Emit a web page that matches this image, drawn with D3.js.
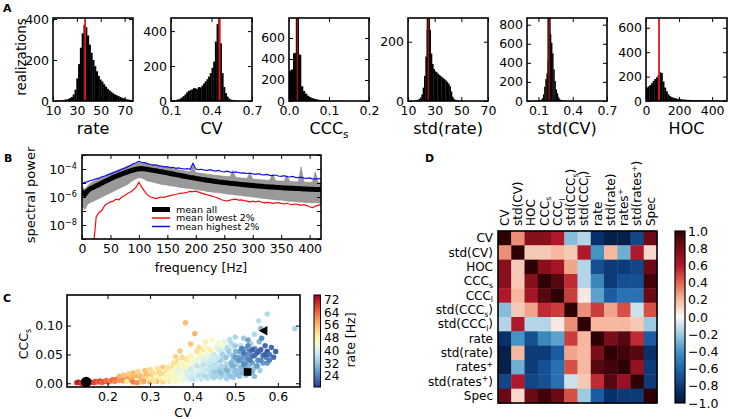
<!DOCTYPE html>
<html>
<head>
<meta charset="utf-8">
<script src="https://cdn.jsdelivr.net/npm/d3@7"></script>
<style>
  body { margin: 0; background: #fff; }
  text { font-family: "DejaVu Sans", sans-serif; }
</style>
</head>
<body>
<script>
// ---------- data: panel A histograms (bin start, bin width, counts, mean)
var rateStart = 13, rateWidth = 1.5;
var rateCounts = [1,2,3,4,6,8,10,14,20,32, 55,110,180,260,330,372,360,320,275,235,
                  200,170,145,122,105,95,82,70,60,52, 45,38,32,28,24,20,16,13,10,8, 6,5,4,3];
var rateMean = 36.9;

var cvStart = 0.1, cvWidth = 0.0125;
var cvCounts = [2,3,5,7,10,14,20,28,38,50, 58,62,66,74,72,70,80,78,88,100,
                112,125,140,160,190,225,340,440,472,330, 160,80,45,25,14,8,5,3,2,1];
var cvMean = 0.46;

var cccStart = 0, cccWidth = 0.005;
var cccCounts = [290,300,455,460,455,440,140,95,70,50, 38,28,22,17,13,10,8,6,5,4, 3,3,2,2,1,1,1,1,0,1];
var cccMean = 0.021;

var stdRateStart = 15, stdRateWidth = 1;
var stdRateCounts = [2,3,4,7,12,22,45,85,150,240, 300,240,160,125,108,100,97,92,88,84,
                     80,77,73,69,64,58,50,32,14,7, 4,3,2,1,1];
var stdRateMean = 25.2;

var stdCvStart = 0.05, stdCvWidth = 0.01;
var stdCvCounts = [2,3,4,5,6,8,10,15,30,70, 150,230,290,420,760,700,610,500,330,210,
                   120,80,40,20,12,8,5,4,3,2, 2,1,1];
var stdCvMean = 0.193;

var hocStart = 0, hocWidth = 10;
var hocCounts = [110,120,130,145,165,180,195,210,235,230, 160,110,80,55,40,32,27,23,20,17,
                 15,13,12,11,10,9,9,8,8,7, 7,6,6,6,5,5,5,4,4,4, 4,3,3,3,3,2,2,2,2];
var hocMean = 79;

// ---------- data: panel B spectra, log10 power every 5 Hz from 0 to 420 Hz
var specStep = 5;
var blackLog = [-5.6,-5.8,-5.55,-5.4,-5.3,-5.2,-5.1,-5.0,-4.9,-4.8,
  -4.7,-4.6,-4.52,-4.44,-4.36,-4.28,-4.2,-4.13,-4.07,-4.02,
  -3.98,-3.97,-3.99,-4.02,-4.06,-4.1,-4.13,-4.17,-4.2,-4.24,
  -4.28,-4.32,-4.36,-4.4,-4.44,-4.48,-4.52,-4.56,-4.6,-4.63,
  -4.67,-4.7,-4.74,-4.77,-4.8,-4.83,-4.86,-4.89,-4.92,-4.94,
  -4.97,-4.99,-5.02,-5.04,-5.06,-5.08,-5.1,-5.12,-5.14,-5.16,
  -5.18,-5.2,-5.21,-5.23,-5.25,-5.26,-5.28,-5.29,-5.31,-5.32,
  -5.33,-5.35,-5.36,-5.37,-5.38,-5.39,-5.4,-5.41,-5.42,-5.43,
  -5.44,-5.45,-5.46,-5.46,-5.47];
var grayHiLog = [-5.25,-5.45,-5.2,-5.0,-4.9,-4.8,-4.7,-4.6,-4.5,-4.4,
  -4.3,-4.2,-4.12,-4.04,-3.96,-3.88,-3.8,-3.72,-3.65,-3.6,
  -3.55,-3.55,-3.58,-3.62,-3.66,-3.7,-3.74,-3.78,-3.82,-3.86,
  -3.9,-3.94,-3.98,-4.02,-4.06,-4.1,-4.13,-4.16,-4.19,-3.75,
  -4.25,-4.28,-4.31,-4.34,-4.37,-4.4,-4.42,-4.45,-4.47,-4.5,
  -4.52,-4.54,-4.56,-4.1,-4.6,-4.62,-4.64,-4.66,-4.68,-4.3,
  -4.72,-4.74,-4.75,-4.77,-4.78,-4.8,-4.81,-4.35,-4.84,-4.85,
  -4.86,-4.87,-4.45,-4.89,-4.9,-4.91,-4.92,-3.85,-4.93,-4.94,
  -4.95,-4.96,-4.2,-4.97,-4.98];
var grayLoLog = [-6.6,-6.9,-6.5,-6.4,-6.3,-6.2,-6.1,-6.0,-5.9,-5.8,
  -5.7,-5.6,-5.5,-5.4,-5.3,-5.2,-5.1,-4.95,-4.8,-4.7,
  -4.62,-4.65,-4.75,-4.85,-4.9,-4.95,-5.0,-5.05,-5.1,-5.12,
  -5.15,-5.2,-5.22,-5.25,-5.3,-5.32,-5.35,-5.38,-5.4,-5.42,
  -5.45,-5.5,-5.52,-5.55,-5.6,-5.62,-5.65,-5.68,-5.7,-5.72,
  -5.75,-5.78,-5.8,-5.82,-5.85,-5.87,-5.9,-5.92,-5.95,-5.97,
  -6.0,-6.02,-6.05,-6.08,-6.1,-6.12,-6.15,-6.17,-6.2,-6.22,
  -6.22,-6.25,-6.28,-6.3,-6.3,-6.32,-6.35,-6.35,-6.38,-6.4,
  -6.4,-6.42,-6.4,-6.43,-6.45];
var blueLog = [-5.05,-4.95,-4.9,-4.82,-4.78,-4.7,-4.65,-4.55,-4.5,-4.42,
  -4.35,-4.28,-4.2,-4.12,-4.02,-3.95,-3.85,-3.75,-3.62,-3.55,
  -3.45,-3.52,-3.55,-3.62,-3.68,-3.72,-3.7,-3.78,-3.8,-3.85,
  -3.83,-3.9,-3.88,-3.95,-3.92,-3.98,-4.0,-3.97,-4.02,-3.6,
  -4.0,-4.05,-4.02,-4.08,-4.1,-4.05,-4.12,-4.15,-4.1,-4.18,
  -4.2,-4.15,-4.22,-4.25,-4.2,-4.25,-4.3,-4.28,-4.32,-4.3,
  -4.35,-4.38,-4.33,-4.4,-4.42,-4.38,-4.45,-4.47,-4.43,-4.5,
  -4.52,-4.48,-4.55,-4.57,-4.53,-4.6,-4.62,-4.58,-4.65,-4.67,
  -4.63,-4.7,-4.72,-4.68,-4.7];
var redLog = [null,null,null,null,-9.6,-7.4,-7.1,-6.95,-6.6,-6.45,
  -6.35,-6.3,-6.15,-6.2,-6.0,-5.9,-5.75,-5.65,-5.5,-5.3,
  -4.95,-5.3,-5.6,-5.85,-6.0,-6.05,-6.12,-6.05,-6.0,-6.02,
  -5.95,-5.9,-5.85,-5.82,-5.75,-5.72,-5.7,-5.66,-5.6,-5.62,
  -5.58,-5.65,-5.72,-5.78,-5.85,-5.9,-5.95,-6.02,-6.1,-6.2,
  -6.25,-6.3,-6.22,-6.18,-6.15,-6.22,-6.2,-6.26,-6.3,-6.36,
  -6.3,-6.35,-6.3,-6.36,-6.42,-6.38,-6.4,-6.45,-6.42,-6.4,
  -6.46,-6.5,-6.45,-6.52,-6.55,-6.5,-6.55,-6.6,-6.55,-6.62,
  -6.7,-6.75,-6.65,-6.6,-6.55];
var legendNames = ["mean all", "mean lowest 2%", "mean highest 2%"];

// ---------- data: panel C scatter [CV, CCC_s, rate]
var scatterPts = [
  [0.128,0.001,70],[0.132,0.002,72],[0.138,0.000,69],[0.142,0.002,71],[0.147,0.001,68],
  [0.152,0.003,70],[0.158,0.001,67],[0.162,0.002,69],[0.168,0.001,66],[0.172,0.003,68],
  [0.177,0.002,65],[0.182,0.004,67],[0.187,0.001,64],[0.192,0.003,66],[0.197,0.005,63],
  [0.202,0.002,65],[0.207,0.004,62],[0.212,0.006,64],[0.217,0.003,61],[0.222,0.007,63],
  [0.227,0.005,60],[0.232,0.009,62],[0.237,0.004,59],[0.242,0.008,61],[0.247,0.011,58],
  [0.252,0.006,60],[0.257,0.010,57],[0.262,0.004,59],[0.266,0.012,56],[0.271,0.008,58],
  [0.276,0.014,55],[0.281,0.006,57],[0.286,0.011,54],[0.291,0.016,56],[0.296,0.009,53],
  [0.301,0.013,55],[0.306,0.018,52],[0.311,0.007,54],[0.316,0.015,51],[0.321,0.020,53],
  [0.245,0.003,50],[0.268,0.005,48],[0.283,0.002,52],[0.298,0.004,47],[0.312,0.010,46],
  [0.325,0.006,49],[0.330,0.012,45],[0.335,0.018,50],[0.338,0.004,44],[0.342,0.022,52],
  [0.346,0.009,46],[0.350,0.015,43],[0.352,0.026,55],[0.356,0.012,47],[0.360,0.020,44],
  [0.362,0.006,42],[0.365,0.030,50],[0.368,0.016,45],[0.372,0.024,43],[0.375,0.010,41],
  [0.378,0.034,48],[0.381,0.019,44],[0.384,0.027,42],[0.387,0.013,40],[0.390,0.038,47],
  [0.393,0.022,43],[0.396,0.030,41],[0.399,0.016,39],[0.402,0.042,46],[0.405,0.025,42],
  [0.408,0.034,40],[0.411,0.011,38],[0.414,0.045,45],[0.417,0.028,41],[0.420,0.020,39],
  [0.423,0.037,43],[0.426,0.014,37],[0.429,0.048,44],[0.432,0.031,40],[0.435,0.023,38],
  [0.438,0.041,42],[0.441,0.017,36],[0.444,0.052,46],[0.447,0.034,39],[0.450,0.026,37],
  [0.453,0.045,41],[0.456,0.019,35],[0.459,0.038,38],[0.462,0.055,42],[0.465,0.030,36],
  [0.468,0.048,39],[0.471,0.022,34],[0.474,0.041,37],[0.477,0.058,40],[0.480,0.033,35],
  [0.483,0.015,33],[0.486,0.050,36],[0.489,0.027,34],[0.492,0.062,38],[0.495,0.040,32],
  [0.498,0.018,33],[0.501,0.055,30],[0.504,0.032,33],[0.507,0.045,28],[0.510,0.024,32],
  [0.513,0.065,36],[0.516,0.038,29],[0.519,0.050,26],[0.522,0.020,31],[0.525,0.060,27],
  [0.528,0.043,25],[0.531,0.030,30],[0.534,0.055,24],[0.537,0.068,34],[0.540,0.047,23],
  [0.543,0.025,32],[0.546,0.060,25],[0.550,0.052,22],[0.553,0.040,26],[0.556,0.072,30],
  [0.560,0.058,21],[0.565,0.048,23],[0.570,0.065,22],[0.575,0.055,20],
  [0.383,0.105,56],[0.405,0.086,57],[0.395,0.068,55],[0.370,0.056,54],[0.360,0.046,53],
  [0.415,0.062,52],[0.425,0.058,50],[0.430,0.072,48],[0.445,0.075,45],[0.460,0.070,43],
  [0.475,0.072,41],[0.487,0.076,36],[0.500,0.080,34],[0.520,0.078,33],[0.545,0.085,35],
  [0.555,0.108,36],[0.575,0.120,35],[0.640,0.095,34],[0.560,0.095,30],[0.530,0.075,28],
  [0.562,0.078,25],
  [0.228,0.012,57],[0.238,0.014,55],[0.250,0.016,54],[0.260,0.018,56],[0.272,0.020,53],
  [0.288,0.022,55],[0.300,0.024,52],[0.318,0.026,51],[0.330,0.028,54],[0.260,0.002,62],
  [0.270,0.001,60],[0.285,0.003,58],[0.300,0.002,57],[0.315,0.003,56],[0.330,0.002,53],
  [0.345,0.003,49],[0.360,0.003,46],[0.375,0.004,44],[0.390,0.005,41],[0.405,0.006,40],
  [0.420,0.007,38],[0.435,0.008,37],[0.450,0.009,36],[0.465,0.010,35],[0.480,0.008,34],
  [0.495,0.010,33],[0.510,0.012,32],[0.525,0.014,31],[0.455,0.012,34],[0.470,0.014,33],
  [0.485,0.020,32],[0.500,0.022,31],[0.515,0.028,30],[0.530,0.018,32],[0.540,0.035,28],
  [0.545,0.012,31],[0.552,0.030,29],[0.558,0.022,33],[0.565,0.035,27],[0.572,0.045,24],
  [0.580,0.050,23],[0.585,0.062,22],[0.440,0.030,36],[0.452,0.035,35],[0.465,0.040,33],
  [0.478,0.045,32],[0.490,0.035,30],[0.505,0.040,29],[0.518,0.045,27],[0.530,0.050,26],
  [0.450,0.050,38],[0.465,0.058,37],[0.480,0.062,35],[0.495,0.048,31],[0.510,0.055,28],
  [0.525,0.035,27],[0.470,0.065,44],[0.455,0.062,47],[0.440,0.058,49],[0.420,0.050,46],
  [0.410,0.055,51],[0.395,0.048,48],[0.385,0.042,50],[0.375,0.045,52],[0.365,0.038,53],
  [0.355,0.035,51],[0.345,0.030,49],[0.340,0.013,48],[0.350,0.022,47],[0.360,0.028,46],
  [0.370,0.035,45],[0.380,0.028,47],[0.390,0.030,44],[0.400,0.035,43],[0.410,0.040,42],
  [0.420,0.045,43],[0.430,0.038,41],[0.440,0.045,40],[0.450,0.040,39],[0.460,0.045,38],
  [0.410,0.020,40],[0.420,0.028,39],[0.430,0.022,38],[0.440,0.025,37],
  [0.300,0.008,50],[0.310,0.004,51],[0.320,0.012,48],[0.325,0.017,52],[0.335,0.008,47],
  [0.340,0.025,51],[0.345,0.018,45],[0.355,0.008,45],[0.365,0.022,41],[0.370,0.012,43],
  [0.380,0.008,42],[0.385,0.020,40],[0.390,0.012,39],[0.395,0.024,38],[0.400,0.008,37],
  [0.410,0.030,37],[0.415,0.014,36],[0.425,0.032,36],[0.430,0.012,35],[0.435,0.035,38],
  [0.445,0.012,34],[0.450,0.020,33],[0.460,0.025,32],[0.465,0.018,31],[0.475,0.028,31],
  [0.480,0.022,30],[0.490,0.012,32],[0.495,0.030,29],[0.505,0.015,31],[0.510,0.040,26],
  [0.515,0.018,30],[0.520,0.032,25],[0.525,0.025,28],[0.535,0.040,24],[0.540,0.020,30],
  [0.545,0.048,22],[0.550,0.030,27],[0.555,0.055,21],[0.560,0.040,25],[0.570,0.050,21],
  [0.575,0.035,26],[0.580,0.040,24],[0.590,0.045,22],[0.595,0.055,21],[0.500,0.065,33],
  [0.490,0.070,35],[0.470,0.050,34],[0.485,0.055,33],[0.500,0.045,27],[0.515,0.060,24],
  [0.520,0.052,23],[0.530,0.065,25],[0.540,0.058,21],[0.455,0.028,36],[0.470,0.030,35],
  [0.425,0.040,40],[0.435,0.050,42],[0.445,0.040,38],[0.460,0.060,40],[0.430,0.063,45]
];
var circlePt = [0.15, 0.002], squarePt = [0.529, 0.0195], trianglePt = [0.566, 0.091];
var rateTicks = [24, 32, 40, 48, 56, 64, 72];

// ---------- data: panel D correlation matrix
var corrLabels = ["CV", "std(CV)", "HOC", "CCC_s", "CCC_l", "std(CCC_s)", "std(CCC_l)",
                  "rate", "std(rate)", "rates^+", "std(rates^+)", "Spec"];
var corrVals = [
  [ 1.00, 0.30, 0.75, 0.75, 0.60,-0.25,-0.15,-0.85,-0.95,-0.95,-0.75, 0.85],
  [ 0.30, 1.00, 0.15, 0.15, 0.20, 0.15, 0.60,-0.40, 0.20,-0.30, 0.60, 0.10],
  [ 0.75, 0.15, 1.00, 0.75, 0.65, 0.25,-0.15,-0.70,-0.80,-0.80,-0.75, 0.85],
  [ 0.75, 0.15, 0.75, 1.00, 0.90, 0.55,-0.15,-0.45,-0.80,-0.70,-0.70, 0.95],
  [ 0.60, 0.20, 0.65, 0.90, 1.00, 0.50, 0.05,-0.35,-0.65,-0.55,-0.55, 0.85],
  [-0.25, 0.15, 0.25, 0.55, 0.50, 1.00, 0.30, 0.50, 0.25, 0.45,-0.10, 0.45],
  [-0.15, 0.60,-0.15,-0.15, 0.05, 0.30, 1.00, 0.20, 0.20, 0.20, 0.15,-0.20],
  [-0.85,-0.40,-0.70,-0.45,-0.35, 0.50, 0.20, 1.00, 0.80, 0.90, 0.55,-0.65],
  [-0.95, 0.20,-0.80,-0.80,-0.65, 0.25, 0.20, 0.80, 1.00, 0.95, 0.90,-0.85],
  [-0.95,-0.30,-0.80,-0.70,-0.55, 0.45, 0.20, 0.90, 0.95, 1.00, 0.70,-0.80],
  [-0.75, 0.60,-0.75,-0.70,-0.55,-0.10, 0.15, 0.55, 0.90, 0.70, 1.00,-0.80],
  [ 0.85, 0.10, 0.85, 0.95, 0.85, 0.45,-0.20,-0.65,-0.85,-0.80,-0.80, 1.00]
];
var corrTicks = [-1, -0.8, -0.6, -0.4, -0.2, 0, 0.2, 0.4, 0.6, 0.8, 1];

// ---------- drawing
var svg = d3.select("body").append("svg").attr("width", 730).attr("height", 419);

// text with "_x" / "^x" (or _{..}) sub/superscripts
function rich(t, str) {
  var fs = parseFloat(t.attr("font-size"));
  var parts = [], buf = "", i = 0;
  while (i < str.length) {
    var c = str[i];
    if ((c === "_" || c === "^") && i + 1 < str.length) {
      if (buf) parts.push({s: buf, k: 0});
      buf = "";
      var s;
      if (str[i + 1] === "{") { var j = str.indexOf("}", i); s = str.slice(i + 2, j); i = j + 1; }
      else { s = str[i + 1]; i += 2; }
      parts.push({s: s, k: c === "_" ? 1 : -1});
    } else { buf += c; i++; }
  }
  if (buf) parts.push({s: buf, k: 0});
  var shift = 0;
  parts.forEach(function(p) {
    var want = p.k === 1 ? fs * 0.22 : (p.k === -1 ? -fs * 0.4 : 0);
    t.append("tspan").attr("dy", want - shift).attr("font-size", p.k ? fs * 0.65 : fs).text(p.s);
    shift = want;
  });
  return t;
}

function panelLetter(x, y, s) {
  svg.append("text").attr("x", x).attr("y", y).attr("font-size", 11)
    .attr("font-weight", "bold").text(s);
}

// inward ticks on all four sides, labels on bottom and left, black frame
function frameAxes(g, xs, ys, o) {
  var x0 = xs.range()[0], x1 = xs.range()[1], y0 = ys.range()[1], y1 = ys.range()[0];
  var tl = o.tl || 4;
  var b = g.append("g").attr("transform", "translate(0," + y1 + ")")
    .call(d3.axisBottom(xs).tickValues(o.xt).tickFormat(o.xf).tickSizeInner(-tl).tickSizeOuter(0).tickPadding(o.xpad || 5));
  var t = g.append("g").attr("transform", "translate(0," + y0 + ")")
    .call(d3.axisTop(xs).tickValues(o.xt).tickFormat("").tickSizeInner(-tl).tickSizeOuter(0));
  var l = g.append("g").attr("transform", "translate(" + x0 + ",0)")
    .call(d3.axisLeft(ys).tickValues(o.yt).tickFormat(o.yf || "").tickSizeInner(-tl).tickSizeOuter(0).tickPadding(o.ypad || 4));
  var r = g.append("g").attr("transform", "translate(" + x1 + ",0)")
    .call(d3.axisRight(ys).tickValues(o.yt).tickFormat("").tickSizeInner(-tl).tickSizeOuter(0));
  [b, t, l, r].forEach(function(a) {
    a.select(".domain").remove();
    a.selectAll(".tick line").attr("stroke", "#000").attr("stroke-width", 1);
    a.selectAll("text").attr("font-family", "DejaVu Sans, sans-serif")
      .attr("font-size", o.fs || 12).attr("fill", "#000");
  });
  g.append("rect").attr("x", x0).attr("y", y0).attr("width", x1 - x0).attr("height", y1 - y0)
    .attr("fill", "none").attr("stroke", "#000").attr("stroke-width", 1.6);
}

var clipN = 0;
function clipFor(g, x, y, w, h) {
  var id = "clip" + (clipN++);
  g.append("clipPath").attr("id", id).append("rect")
    .attr("x", x).attr("y", y).attr("width", w).attr("height", h);
  return "url(#" + id + ")";
}

// ---------- panel A
panelLetter(3, 12, "A");
var histDefs = [
  {x0: 53,  x1: 133, xd: [10, 77],  yd: [0, 405], xt: [10, 30, 50, 70], yt: [0, 200, 400],
   start: rateStart, w: rateWidth, counts: rateCounts, mean: rateMean, label: "rate", xf: d3.format("d"), dark: false},
  {x0: 171, x1: 252, xd: [0.1, 0.7], yd: [0, 475], xt: [0.1, 0.4, 0.7], yt: [0, 200, 400],
   start: cvStart, w: cvWidth, counts: cvCounts, mean: cvMean, label: "CV", xf: d3.format(".1f"), dark: false},
  {x0: 289, x1: 369, xd: [0, 0.2], yd: [0, 790], xt: [0, 0.1, 0.2], yt: [0, 200, 400, 600],
   start: cccStart, w: cccWidth, counts: cccCounts, mean: cccMean, label: "CCC_s", xf: d3.format(".1f"), dark: true},
  {x0: 408, x1: 488, xd: [10, 70], yd: [0, 280], xt: [10, 30, 50, 70], yt: [0, 200],
   start: stdRateStart, w: stdRateWidth, counts: stdRateCounts, mean: stdRateMean, label: "std(rate)", xf: d3.format("d"), dark: true},
  {x0: 527, x1: 607, xd: [0, 0.7], yd: [0, 870], xt: [0.1, 0.4, 0.7], yt: [0, 200, 400, 600, 800],
   start: stdCvStart, w: stdCvWidth, counts: stdCvCounts, mean: stdCvMean, label: "std(CV)", xf: d3.format(".1f"), dark: true},
  {x0: 646, x1: 727, xd: [0, 490], yd: [0, 680], xt: [0, 200, 400], yt: [0, 200, 400, 600],
   start: hocStart, w: hocWidth, counts: hocCounts, mean: hocMean, label: "HOC", xf: d3.format("d"), dark: false}
];
var aTop = 18, aBot = 101;
histDefs.forEach(function(h) {
  var g = svg.append("g");
  var xs = d3.scaleLinear().domain(h.xd).range([h.x0, h.x1]);
  var ys = d3.scaleLinear().domain(h.yd).range([aBot, aTop]);
  var cp = clipFor(g, h.x0, aTop, h.x1 - h.x0, aBot - aTop);
  var bins = h.counts.map(function(c, i) { return {a: h.start + i * h.w, b: h.start + (i + 1) * h.w, c: c}; });
  g.append("g").attr("clip-path", cp).selectAll("rect").data(bins).enter().append("rect")
    .attr("x", function(d) { return xs(d.a); })
    .attr("width", function(d) { return Math.max(0, xs(d.b) - xs(d.a)) + 0.3; })
    .attr("y", function(d) { return ys(d.c); })
    .attr("height", function(d) { return ys(0) - ys(d.c); })
    .attr("fill", "#000");
  if (h.dark) {
    g.append("line").attr("x1", xs(h.mean)).attr("x2", xs(h.mean)).attr("y1", aTop).attr("y2", aBot)
      .attr("stroke", "#000").attr("stroke-width", 3.2);
    g.append("line").attr("x1", xs(h.mean)).attr("x2", xs(h.mean)).attr("y1", aTop).attr("y2", aBot)
      .attr("stroke", "#b01010").attr("stroke-width", 1.4);
  } else {
    g.append("line").attr("x1", xs(h.mean)).attr("x2", xs(h.mean)).attr("y1", aTop).attr("y2", aBot)
      .attr("stroke", "#e01818").attr("stroke-width", 1.8);
  }
  frameAxes(g, xs, ys, {xt: h.xt, xf: h.xf, yt: h.yt, yf: d3.format("d"), fs: 12.5});
  rich(g.append("text").attr("x", (h.x0 + h.x1) / 2).attr("y", 134).attr("text-anchor", "middle")
    .attr("font-size", 16), h.label);
});
svg.append("text").attr("transform", "translate(26,57) rotate(-90)").attr("text-anchor", "middle")
  .attr("font-size", 13.5).text("realizations");

// ---------- panel B
panelLetter(4, 162, "B");
(function() {
  var g = svg.append("g");
  var xs = d3.scaleLinear().domain([0, 420]).range([82, 321]);
  var ys = d3.scaleLog().domain([1e-9, 1e-3]).range([239, 155]);
  var cp = clipFor(g, 82, 155, 239, 84);
  var pts = function(arr) {
    return arr.map(function(v, i) { return {f: i * specStep, v: v}; });
  };
  var line = d3.line().defined(function(d) { return d.v !== null; })
    .x(function(d) { return xs(d.f); }).y(function(d) { return ys(Math.pow(10, d.v)); });
  var band = grayLoLog.map(function(v, i) { return {f: i * specStep, lo: v, hi: grayHiLog[i]}; });
  var area = d3.area().x(function(d) { return xs(d.f); })
    .y0(function(d) { return ys(Math.pow(10, d.lo)); }).y1(function(d) { return ys(Math.pow(10, d.hi)); });
  var pg = g.append("g").attr("clip-path", cp);
  pg.append("path").datum(band).attr("d", area).attr("fill", "#999").attr("stroke", "#888").attr("stroke-width", 0.6);
  pg.append("path").datum(pts(blackLog)).attr("d", line).attr("fill", "none").attr("stroke", "#000").attr("stroke-width", 5);
  pg.append("path").datum(pts(blueLog)).attr("d", line).attr("fill", "none").attr("stroke", "#1010ee").attr("stroke-width", 1.2);
  pg.append("path").datum(pts(redLog)).attr("d", line).attr("fill", "none").attr("stroke", "#ee1010").attr("stroke-width", 1.2);

  var decades = [1e-9, 1e-8, 1e-7, 1e-6, 1e-5, 1e-4, 1e-3];
  frameAxes(g, xs, ys, {xt: d3.range(0, 401, 50), xf: d3.format("d"), yt: decades, yf: "", fs: 12.5});
  [1e-8, 1e-6, 1e-4].forEach(function(v) {
    rich(g.append("text").attr("x", 77).attr("y", ys(v) + 4.5).attr("text-anchor", "end")
      .attr("font-size", 12.5), "10^{\u2212" + Math.round(-Math.log10(v)) + "}");
  });
  g.append("text").attr("x", 201).attr("y", 272).attr("text-anchor", "middle").attr("font-size", 12.5)
    .text("frequency [Hz]");
  g.append("text").attr("transform", "translate(35,195) rotate(-90)").attr("text-anchor", "middle")
    .attr("font-size", 13).text("spectral power");

  // legend
  var legColors = ["#000", "#ee1010", "#1010ee"], legW = [5, 1.5, 1.5], legY = [209.5, 218, 226.5];
  legendNames.forEach(function(n, i) {
    g.append("line").attr("x1", 152).attr("x2", 170).attr("y1", legY[i]).attr("y2", legY[i])
      .attr("stroke", legColors[i]).attr("stroke-width", legW[i]);
    g.append("text").attr("x", 176).attr("y", legY[i] + 3.3).attr("font-size", 9.5).text(n);
  });
})();

// ---------- panel C
panelLetter(3, 302, "C");
(function() {
  var g = svg.append("g");
  var xs = d3.scaleLinear().domain([0.105, 0.652]).range([67, 300]);
  var ys = d3.scaleLinear().domain([-0.0065, 0.153]).range([387, 295]);
  var col = d3.scaleSequential(function(t) { return d3.interpolateRdYlBu(1 - t); }).domain([17, 75]);
  var cp = clipFor(g, 67, 295, 233, 92);
  var pg = g.append("g").attr("clip-path", cp);
  pg.selectAll("circle.pt").data(scatterPts).enter().append("circle").attr("class", "pt")
    .attr("cx", function(d) { return xs(d[0]); }).attr("cy", function(d) { return ys(d[1]); })
    .attr("r", 2.7).attr("fill", function(d) { return col(d[2]); });
  pg.append("circle").attr("cx", xs(circlePt[0])).attr("cy", ys(circlePt[1])).attr("r", 5.3).attr("fill", "#000");
  pg.append("rect").attr("x", xs(squarePt[0]) - 3.8).attr("y", ys(squarePt[1]) - 3.8)
    .attr("width", 7.6).attr("height", 7.6).attr("fill", "#000");
  var tx = xs(trianglePt[0]), ty = ys(trianglePt[1]);
  pg.append("path").attr("d", "M" + (tx - 4.5) + "," + ty + "L" + (tx + 4) + "," + (ty - 4.8) + "L" + (tx + 4) + "," + (ty + 4.8) + "Z")
    .attr("fill", "#000");
  frameAxes(g, xs, ys, {xt: [0.2, 0.3, 0.4, 0.5, 0.6], xf: d3.format(".1f"),
    yt: [0, 0.05, 0.1], yf: d3.format(".2f"), fs: 12.5});
  g.append("text").attr("x", 183).attr("y", 417).attr("text-anchor", "middle").attr("font-size", 12.5).text("CV");
  rich(g.append("text").attr("transform", "translate(28,344) rotate(-90)").attr("text-anchor", "middle")
    .attr("font-size", 12.5), "CCC_s");

  // colorbar
  var cs = d3.scaleLinear().domain([17, 75]).range([387, 295]);
  var grad = g.append("defs").append("linearGradient").attr("id", "gradC")
    .attr("x1", 0).attr("y1", 1).attr("x2", 0).attr("y2", 0);
  d3.range(0, 1.0001, 0.05).forEach(function(t) {
    grad.append("stop").attr("offset", t).attr("stop-color", d3.interpolateRdYlBu(1 - t));
  });
  g.append("rect").attr("x", 314).attr("y", 295).attr("width", 6.5).attr("height", 92)
    .attr("fill", "url(#gradC)").attr("stroke", "#000").attr("stroke-width", 1);
  rateTicks.forEach(function(v) {
    g.append("text").attr("x", 324).attr("y", cs(v) + 4.3).attr("font-size", 12).text(v);
  });
  g.append("text").attr("transform", "translate(355,340) rotate(-90)").attr("text-anchor", "middle")
    .attr("font-size", 12.5).text("rate [Hz]");
})();

// ---------- panel D
panelLetter(425, 162, "D");
(function() {
  var g = svg.append("g");
  var idx = d3.range(corrLabels.length);
  var xb = d3.scaleBand().domain(idx).range([498, 657]);
  var yb = d3.scaleBand().domain(idx).range([231, 403]);
  // RdBu-like map with darker ends, as in the reference
  var col = d3.scaleLinear()
    .domain([-1, -0.85, -0.6, -0.4, -0.2, 0, 0.2, 0.4, 0.6, 0.85, 1])
    .range(["#07183a", "#08306b", "#2166ac", "#4393c3", "#9ecae1", "#f7f7f7",
            "#f6b9a0", "#e0644f", "#b2182b", "#6b0a14", "#2e0006"])
    .interpolate(d3.interpolateRgb).clamp(true);
  corrVals.forEach(function(row, r) {
    g.selectAll(null).data(row).enter().append("rect")
      .attr("x", function(d, c) { return xb(c); }).attr("y", yb(r))
      .attr("width", xb.bandwidth() + 0.4).attr("height", yb.bandwidth() + 0.4)
      .attr("fill", function(d) { return col(d); });
  });
  g.append("rect").attr("x", 498).attr("y", 231).attr("width", 159).attr("height", 172)
    .attr("fill", "none").attr("stroke", "#000").attr("stroke-width", 1.6);
  corrLabels.forEach(function(lab, i) {
    rich(g.append("text").attr("x", 493).attr("y", yb(i) + yb.bandwidth() / 2 + 4.3)
      .attr("text-anchor", "end").attr("font-size", 12), lab);
    rich(g.append("text").attr("transform", "translate(" + (xb(i) + xb.bandwidth() / 2 + 4.3) + ",226) rotate(-90)")
      .attr("font-size", 12), lab);
  });

  // colorbar
  var cs = d3.scaleLinear().domain([-1, 1]).range([403, 231]);
  var grad = g.append("defs").append("linearGradient").attr("id", "gradD")
    .attr("x1", 0).attr("y1", 1).attr("x2", 0).attr("y2", 0);
  d3.range(-1, 1.0001, 0.05).forEach(function(v) {
    grad.append("stop").attr("offset", (v + 1) / 2).attr("stop-color", col(v));
  });
  g.append("rect").attr("x", 675).attr("y", 231).attr("width", 10).attr("height", 172)
    .attr("fill", "url(#gradD)").attr("stroke", "#000").attr("stroke-width", 1.2);
  var fmt = d3.format(".1f");
  corrTicks.forEach(function(v) {
    g.append("text").attr("x", 688).attr("y", cs(v) + 4.5).attr("font-size", 12.5).text(fmt(v));
  });
})();
</script>
</body>
</html>
